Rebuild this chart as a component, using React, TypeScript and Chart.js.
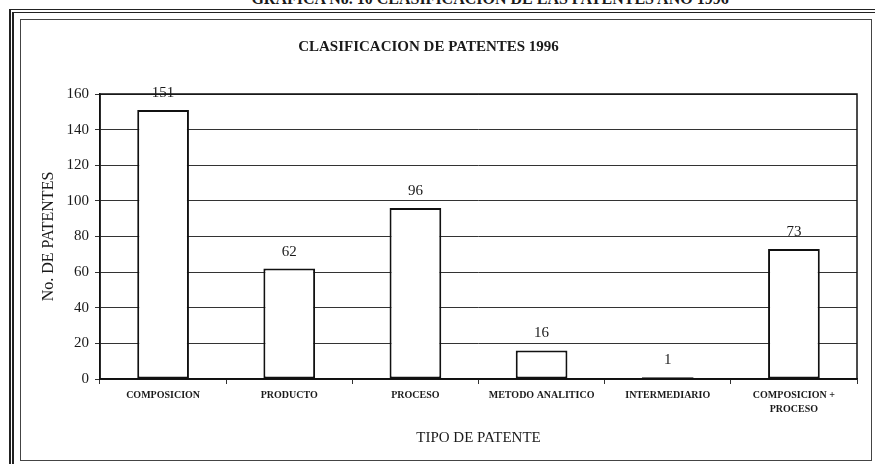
import React, { useEffect, useRef } from "react";
import { Chart, registerables } from "chart.js";

Chart.register(...registerables);

const categories: (string | string[])[] = [
  "COMPOSICION",
  "PRODUCTO",
  "PROCESO",
  "METODO ANALITICO",
  "INTERMEDIARIO",
  ["COMPOSICION +", "PROCESO"],
];
const patentCounts = [151, 62, 96, 16, 1, 73];
const yTickMin = 0;
const yTickMax = 160;
const yTickStep = 20;

const pageTitle = "GRAFICA No. 10 CLASIFICACION DE LAS PATENTES AÑO 1996";
const chartTitle = "CLASIFICACION DE PATENTES 1996";
const yAxisTitle = "No. DE PATENTES";
const xAxisTitle = "TIPO DE PATENTE";

const SERIF = "'Liberation Serif', 'Times New Roman', serif";

const frameBorder = {
  id: "frameBorder",
  afterDatasetsDraw(chart: any) {
    const { ctx, chartArea } = chart;
    ctx.save();
    ctx.strokeStyle = "#111";
    ctx.lineWidth = 1.5;
    ctx.strokeRect(chartArea.left, chartArea.top, chartArea.right - chartArea.left, chartArea.bottom - chartArea.top);
    ctx.restore();
  },
};

const valueLabels = {
  id: "valueLabels",
  afterDatasetsDraw(chart: any) {
    const { ctx } = chart;
    const meta = chart.getDatasetMeta(0);
    const data = chart.data.datasets[0].data;
    ctx.save();
    ctx.font = `15px ${SERIF}`;
    ctx.fillStyle = "#1a1a1a";
    ctx.textAlign = "center";
    ctx.textBaseline = "middle";
    meta.data.forEach((bar: any, i: number) => {
      ctx.fillText(String(data[i]), bar.x, bar.y - 17);
    });
    ctx.restore();
  },
};

export default function App() {
  const ref = useRef<HTMLCanvasElement | null>(null);

  useEffect(() => {
    if (!ref.current) return;
    const chart = new Chart(ref.current, {
      type: "bar",
      data: {
        labels: categories,
        datasets: [
          {
            data: patentCounts,
            backgroundColor: "#ffffff",
            borderColor: "#111",
            borderWidth: 2,
            borderSkipped: false,
            categoryPercentage: 1,
            barPercentage: 0.41,
          },
        ],
      },
      options: {
        responsive: false,
        animation: false,
        layout: { padding: { left: 0, right: 18, top: 0, bottom: 0 } },
        plugins: {
          legend: { display: false },
          tooltip: { enabled: false },
          title: {
            display: true,
            text: chartTitle,
            color: "#1a1a1a",
            font: { family: SERIF, size: 15, weight: "bold", lineHeight: 1.2 },
            padding: { top: 38, bottom: 38 },
          },
        },
        scales: {
          x: {
            offset: true,
            afterFit(scale: any) {
              scale.height = 85;
            },
            grid: {
              offset: true,
              drawOnChartArea: false,
              drawTicks: true,
              tickLength: 5,
              color: "#333",
            },
            border: { display: true, color: "#111", width: 1.5 },
            ticks: {
              color: "#1a1a1a",
              padding: 4,
              maxRotation: 0,
              autoSkip: false,
              font: { family: SERIF, size: 10, weight: "bold", lineHeight: 1.4 },
            },
            title: {
              display: true,
              text: xAxisTitle,
              color: "#1a1a1a",
              font: { family: SERIF, size: 15, lineHeight: 1.2 },
              padding: { top: 17, bottom: 17 },
            },
          },
          y: {
            min: yTickMin,
            max: yTickMax,
            afterFit(scale: any) {
              scale.width = 100;
            },
            grid: {
              color: "#333",
              lineWidth: 1,
              drawTicks: true,
              tickLength: 5,
            },
            border: { display: true, color: "#111", width: 1.5 },
            ticks: {
              stepSize: yTickStep,
              color: "#1a1a1a",
              padding: 6,
              font: { family: SERIF, size: 15 },
            },
            title: {
              display: true,
              text: yAxisTitle,
              color: "#1a1a1a",
              font: { family: SERIF, size: 16, lineHeight: 1.2 },
              padding: { top: 39, bottom: 39 },
            },
          },
        },
      },
      plugins: [frameBorder, valueLabels],
    });
    return () => chart.destroy();
  }, []);

  return (
    <div style={{ position: "absolute", left: 0, top: 0, width: 875, height: 464, overflow: "hidden", background: "#fff" }}>
      <div
        style={{
          position: "absolute",
          left: 0,
          width: 980,
          top: -9,
          textAlign: "center",
          fontFamily: SERIF,
          fontWeight: "bold",
          fontSize: 16,
          lineHeight: "16px",
          color: "#1a1a1a",
          whiteSpace: "nowrap",
        }}
      >
        {pageTitle}
      </div>
      <div style={{ position: "absolute", left: 9, top: 9, width: 900, height: 500, borderLeft: "5px double #222", borderTop: "4px double #222", boxSizing: "border-box" }} />
      <div style={{ position: "absolute", left: 20, top: 19, width: 852, height: 442, border: "1.5px solid #444", boxSizing: "border-box" }} />
      <canvas ref={ref} width={875} height={464} style={{ position: "absolute", left: 0, top: 0 }} />
    </div>
  );
}
